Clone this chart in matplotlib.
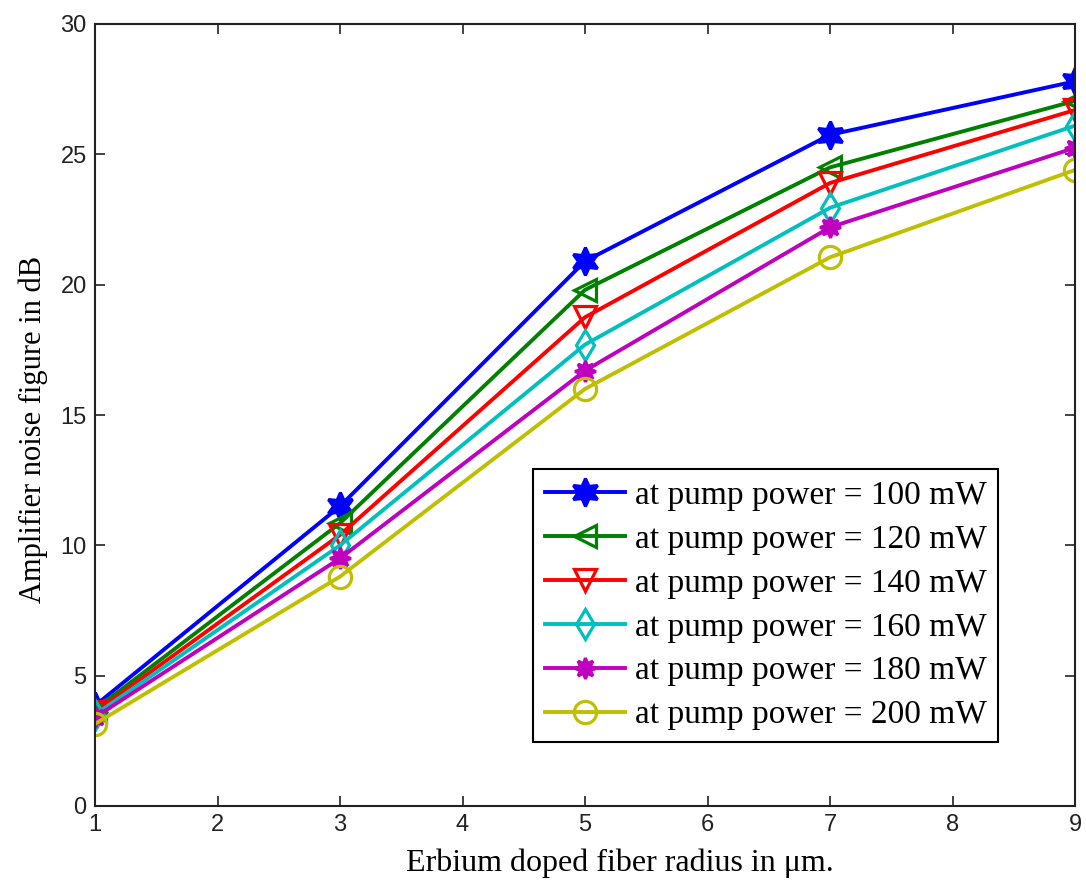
import matplotlib
matplotlib.use("Agg")
import matplotlib.pyplot as plt

radius = [1, 3, 5, 7, 9]
nf_100 = [3.85, 11.5, 20.9, 25.75, 27.8]
nf_120 = [3.7, 10.85, 19.8, 24.5, 27.05]
nf_140 = [3.6, 10.4, 18.75, 23.9, 26.7]
nf_160 = [3.5, 10.0, 17.7, 22.95, 26.1]
nf_180 = [3.4, 9.5, 16.7, 22.2, 25.25]
nf_200 = [3.15, 8.8, 16.0, 21.05, 24.4]
labels = ["at pump power = 100 mW", "at pump power = 120 mW", "at pump power = 140 mW",
          "at pump power = 160 mW", "at pump power = 180 mW", "at pump power = 200 mW"]

series = [nf_100, nf_120, nf_140, nf_160, nf_180, nf_200]
colors = ["#0000FF", "#008000", "#FF0000", "#00BFBF", "#BF00BF", "#BFBF00"]
markers = [(6, 1, 0), "<", "v", "d", (8, 1, 0), "o"]
filled = [True, False, False, False, True, False]
msizes = [20, 16, 16, 15, 15, 16]

fig = plt.figure(figsize=(10.86, 8.83), dpi=100)
ax = fig.add_axes([95/1086, 1-806/883, 980/1086, 782/883])

for y, c, m, f, ms, lab in zip(series, colors, markers, filled, msizes, labels):
    ax.plot(radius, y, color=c, lw=2.8, marker=m, markersize=ms,
            markerfacecolor=(c if f else "none"),
            markeredgecolor=c, markeredgewidth=2.3, label=lab)

ax.set_xlim(1, 9)
ax.set_ylim(0, 30)
ax.set_xticks(range(1, 10))
ax.set_yticks(range(0, 31, 5))
ax.tick_params(direction="in", length=7, width=1.2, top=True, right=True,
               labelsize=17, pad=6, colors="#222222")
for lab in ax.get_xticklabels() + ax.get_yticklabels():
    lab.set_family("Liberation Sans")
for s in ax.spines.values():
    s.set_linewidth(1.5)
    s.set_color("#222222")

ax.set_xlabel("Erbium doped fiber radius in \u03bcm.", family="Liberation Serif", fontsize=23,
              labelpad=9, x=0.536)
ax.set_ylabel("Amplifier noise figure in dB", family="Liberation Serif", fontsize=22,
              labelpad=9, y=0.481)

leg = ax.legend(loc="lower left", bbox_to_anchor=(0.447, 0.082), fancybox=False,
                edgecolor="black", framealpha=1, prop={"family": "Liberation Serif", "size": 24},
                handlelength=2.4, borderpad=0.35, labelspacing=0.4, handletextpad=0.3,
                borderaxespad=0)
leg.get_frame().set_linewidth(1.5)

fig.savefig("out.png", dpi=100)
